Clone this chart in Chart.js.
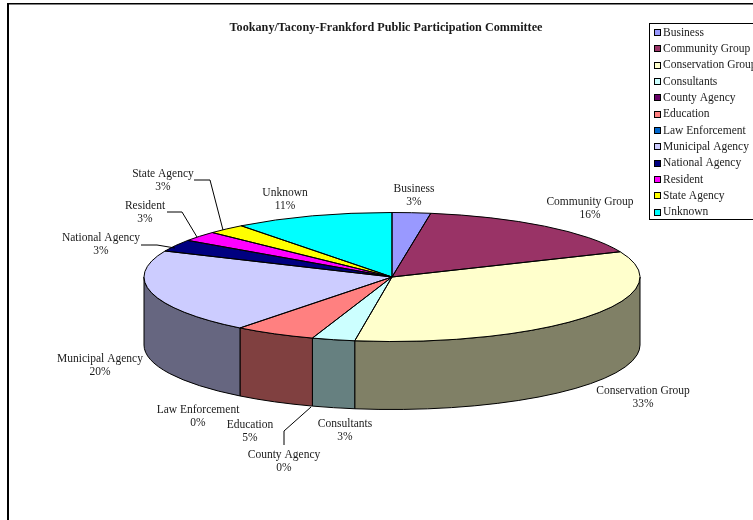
<!DOCTYPE html>
<html>
<head>
<meta charset="utf-8">
<title>Tookany/Tacony-Frankford Public Participation Committee</title>
<script src="https://cdn.jsdelivr.net/npm/chart.js@4/dist/chart.umd.js"></script>
<style>
  html, body { margin: 0; padding: 0; background: #fff; overflow: hidden; }
  canvas { display: block; }
</style>
</head>
<body>
<canvas id="chart" width="753" height="520"></canvas>
<script>
const categories = [
    'Business', 'Community Group', 'Conservation Group', 'Consultants',
    'County Agency', 'Education', 'Law Enforcement', 'Municipal Agency',
    'National Agency', 'Resident', 'State Agency', 'Unknown'
];
const sliceSizes = [2.5, 16.1, 33.8, 2.8, 0, 5.3, 0, 21.1, 3, 2.5, 2.5, 10.4];
// Percentages as printed on the labels
const printedPercents = [3, 16, 33, 3, 0, 5, 0, 20, 3, 3, 3, 11];
const colors = [
    '#9999ff', '#993366', '#ffffcc', '#ccffff', '#660066', '#ff8080',
    '#0066cc', '#ccccff', '#000080', '#ff00ff', '#ffff00', '#00ffff'
];

// Centre of each two line label, same order as categories
const labelX = [414, 590, 643, 345, 284, 250, 198, 100, 101, 145, 163, 285];
const labelY = [189, 202, 391, 424, 455, 425, 410, 359, 238, 206, 174, 193];

// Leader lines
const leaders = [
    [[194, 180], [210, 180], [223, 230]],
    [[167, 212], [182, 212], [197, 237]],
    [[141, 245], [157, 245], [175, 248]],
    [[311, 407], [284, 431], [284, 445]]
];

const pie = { x: 392, y: 277, rx: 248, ry: 64.5, depth: 68 };
const serif = '"Liberation Serif", serif';
const labelSize = 11.5;
const textColor = '#1a1a1a';

const darker = hex => {
    const n = parseInt(hex.slice(1), 16);
    return `rgb(${(n >> 16) / 2}, ${((n >> 8) & 255) / 2}, ${(n & 255) / 2})`;
};

const pie3d = {
    id: 'pie3d',
    afterLayout(chart) {
        // legend box hangs off the right edge of the page
        const legend = chart.legend;
        legend.left = 652.4;
        legend.top = 22;
        legend.right = 753;
        legend.bottom = 260;
        legend.width = 100.6;
        legend.height = 238;
    },
    beforeDraw(chart) {
        const ctx = chart.ctx;
        ctx.save();
        ctx.fillStyle = '#000';
        ctx.fillRect(7, 3, 746, 1.5);
        ctx.fillRect(7, 3, 2, 517);
        ctx.restore();
    },
    // side wall, only the front half of the cylinder shows
    beforeDatasetsDraw(chart) {
        const ctx = chart.ctx;
        const arcs = chart.getDatasetMeta(0).data;
        ctx.save();
        ctx.strokeStyle = '#000';
        ctx.lineWidth = 1;
        arcs.forEach((arc, i) => {
            const a = Math.max(arc.startAngle, 0);
            const b = Math.min(arc.endAngle, Math.PI);
            if (b <= a || sliceSizes[i] === 0) return;
            ctx.beginPath();
            ctx.ellipse(pie.x, pie.y, pie.rx, pie.ry, 0, a, b);
            ctx.ellipse(pie.x, pie.y + pie.depth, pie.rx, pie.ry, 0, b, a, true);
            ctx.closePath();
            ctx.fillStyle = darker(colors[i]);
            ctx.fill();
            ctx.stroke();
        });
        ctx.restore();
    },
    // squash the library's round pie into the top face
    beforeDatasetDraw(chart) {
        const ctx = chart.ctx;
        const arc = chart.getDatasetMeta(0).data[0];
        const r = arc.outerRadius;
        ctx.save();
        ctx.translate(pie.x, pie.y);
        ctx.scale(pie.rx / r, pie.ry / r);
        ctx.translate(-arc.x, -arc.y);
    },
    afterDatasetDraw(chart) {
        chart.ctx.restore();
    },
    afterDatasetsDraw(chart) {
        const ctx = chart.ctx;
        const arcs = chart.getDatasetMeta(0).data;
        ctx.save();
        ctx.strokeStyle = '#000';
        ctx.lineWidth = 1;
        arcs.forEach((arc, i) => {
            if (sliceSizes[i] === 0) return;
            ctx.beginPath();
            ctx.moveTo(pie.x, pie.y);
            ctx.ellipse(pie.x, pie.y, pie.rx, pie.ry, 0, arc.startAngle, arc.endAngle);
            ctx.closePath();
            ctx.stroke();
        });

        // leaders
        leaders.forEach(points => {
            ctx.beginPath();
            points.forEach(([x, y], i) => i ? ctx.lineTo(x, y) : ctx.moveTo(x, y));
            ctx.stroke();
        });

        // slice labels
        ctx.fillStyle = textColor;
        ctx.font = `${labelSize}px ${serif}`;
        ctx.textAlign = 'center';
        ctx.textBaseline = 'middle';
        categories.forEach((name, i) => {
            ctx.fillText(name, labelX[i], labelY[i]);
            ctx.fillText(printedPercents[i] + '%', labelX[i], labelY[i] + 13);
        });

        // legend frame and swatches, the library puts its swatch too far from the text
        ctx.strokeRect(649.5, 23.5, 110, 196);
        chart.legend.legendHitBoxes.forEach((box, i) => {
            const y = Math.round(box.top + box.height / 2 - 3.5) + 0.5;
            ctx.fillStyle = colors[i];
            ctx.fillRect(654.5, y, 6, 6);
            ctx.strokeRect(654.5, y, 6, 6);
        });
        ctx.restore();
    }
};

new Chart(document.getElementById('chart'), {
    type: 'pie',
    data: {
        labels: categories,
        datasets: [{
            data: sliceSizes,
            backgroundColor: colors,
            borderWidth: 0,
            clip: false
        }]
    },
    options: {
        responsive: false,
        animation: false,
        events: [],
        layout: { padding: { left: 19, right: 0, top: 21, bottom: 0 } },
        plugins: {
            title: {
                display: true,
                text: 'Tookany/Tacony-Frankford Public Participation Committee',
                fullSize: false,
                color: textColor,
                font: { family: serif, size: 12.2, weight: 'bold' },
                padding: 0
            },
            tooltip: { enabled: false },
            legend: {
                position: 'chartArea',
                align: 'start',
                labels: {
                    color: textColor,
                    font: { family: serif, size: labelSize },
                    boxWidth: 0,
                    boxHeight: 7,
                    padding: 4.84
                }
            }
        }
    },
    plugins: [pie3d]
});
</script>
</body>
</html>
